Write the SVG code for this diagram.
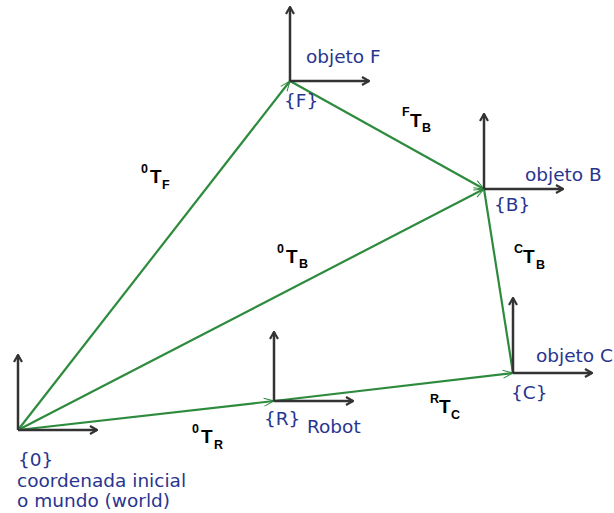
<svg xmlns="http://www.w3.org/2000/svg" width="614" height="513" viewBox="0 0 614 513">
<style>
.axis{stroke:#333;stroke-width:2.5;fill:none;marker-end:url(#ah)}
.vec{stroke:#2e8b3e;stroke-width:2.2;fill:none}
.vh{marker-end:url(#gh)}
.lbl{font-family:"DejaVu Sans",Verdana,sans-serif;font-size:18.5px;fill:#28358f}
.tf{font-family:"Liberation Sans",Arial,sans-serif;fill:#000;font-weight:bold}
.T{font-size:19px}
.s{font-size:12.5px}
</style>
<defs>
<marker id="ah" viewBox="0 0 10 10" refX="9" refY="5" markerWidth="10" markerHeight="10" markerUnits="userSpaceOnUse" orient="auto">
<path d="M2,1 L9,5 L2,9" fill="none" stroke="#333" stroke-width="2.2"/>
</marker>
<marker id="gh" viewBox="0 0 12 12" refX="11" refY="6" markerWidth="12" markerHeight="12" markerUnits="userSpaceOnUse" orient="auto">
<path d="M1,2 L11,6 L1,10" fill="none" stroke="#2e8b3e" stroke-width="1"/>
</marker>
</defs>
<rect width="614" height="513" fill="#fff"/>
<g id="connectors">
<line class="vec vh" x1="18" y1="430" x2="290" y2="81"/>
<line class="vec vh" x1="18" y1="430" x2="484" y2="189"/>
<line class="vec vh" x1="18" y1="430" x2="274" y2="401"/>
<line class="vec vh" x1="274" y1="401" x2="513" y2="373"/>
<line class="vec vh" x1="290" y1="81" x2="484" y2="189"/>
<line class="vec" x1="513" y1="373" x2="484" y2="189"/>
<text class="tf" x="141" y="173"><tspan class="s">0</tspan><tspan class="T" x="150" y="183">T</tspan><tspan class="s" x="162" y="189">F</tspan></text>
<text class="tf" x="277" y="253"><tspan class="s">0</tspan><tspan class="T" x="286" y="263">T</tspan><tspan class="s" x="299" y="268">B</tspan></text>
<text class="tf" x="402" y="116"><tspan class="s">F</tspan><tspan class="T" x="410" y="127">T</tspan><tspan class="s" x="422" y="132">B</tspan></text>
<text class="tf" x="514" y="253"><tspan class="s">C</tspan><tspan class="T" x="523" y="263">T</tspan><tspan class="s" x="536" y="269">B</tspan></text>
<text class="tf" x="430" y="403"><tspan class="s">R</tspan><tspan class="T" x="439" y="413">T</tspan><tspan class="s" x="451" y="419">C</tspan></text>
<text class="tf" x="192" y="433"><tspan class="s">0</tspan><tspan class="T" x="201" y="443">T</tspan><tspan class="s" x="214" y="449">R</tspan></text>
</g>
<g id="frame0">
<line class="axis" x1="18" y1="430" x2="18" y2="355"/>
<line class="axis" x1="18" y1="430" x2="97" y2="430"/>
<text class="lbl" x="18" y="466">{0}</text>
<text class="lbl" x="17" y="487">coordenada inicial</text>
<text class="lbl" x="17" y="507">o mundo (world)</text>
</g>
<g id="frameF">
<line class="axis" x1="290" y1="81" x2="290" y2="7"/>
<line class="axis" x1="290" y1="81" x2="369" y2="81"/>
<text class="lbl" x="306" y="63">objeto F</text>
<text class="lbl" x="284" y="107">{F}</text>
</g>
<g id="frameB">
<line class="axis" x1="484" y1="189" x2="484" y2="114"/>
<line class="axis" x1="484" y1="189" x2="563" y2="189"/>
<text class="lbl" x="525" y="181">objeto B</text>
<text class="lbl" x="494" y="211">{B}</text>
</g>
<g id="frameC">
<line class="axis" x1="513" y1="373" x2="513" y2="298"/>
<line class="axis" x1="513" y1="373" x2="592" y2="373"/>
<text class="lbl" x="536" y="362">objeto C</text>
<text class="lbl" x="511" y="399">{C}</text>
</g>
<g id="frameR">
<line class="axis" x1="274" y1="401" x2="274" y2="332"/>
<line class="axis" x1="274" y1="401" x2="353" y2="401"/>
<text class="lbl" x="264" y="425">{R}</text>
<text class="lbl" x="307" y="433">Robot</text>
</g>
</svg>
